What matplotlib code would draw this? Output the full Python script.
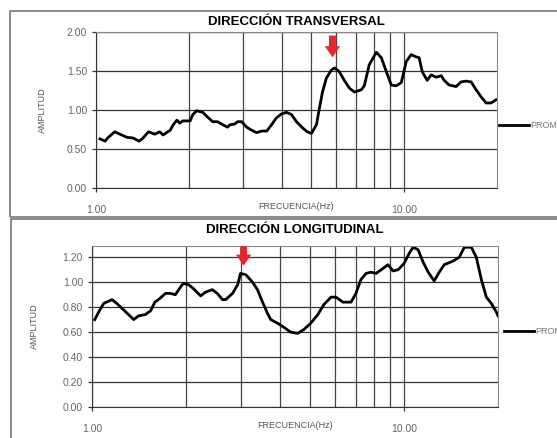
import numpy as np
import matplotlib
matplotlib.use("Agg")
import matplotlib.pyplot as plt
from matplotlib.patches import Rectangle
from matplotlib.ticker import FormatStrFormatter

plt.rcParams['font.family'] = ['Liberation Sans', 'DejaVu Sans']

# Transversal direction spectrum (frequency in Hz, amplitude)
freq_trans = [1.03, 1.07, 1.09, 1.15, 1.21, 1.26, 1.32, 1.38, 1.42, 1.48, 1.55, 1.61, 1.65,
              1.74, 1.78, 1.83, 1.87, 1.91, 2.02, 2.06, 2.12, 2.22, 2.30, 2.39, 2.48, 2.58,
              2.67, 2.72, 2.82, 2.88, 2.97, 3.08, 3.20, 3.32, 3.45, 3.58, 3.71, 3.85, 4.00,
              4.15, 4.31, 4.47, 4.68, 4.85, 5.00, 5.19, 5.31, 5.43, 5.59, 5.80, 5.94, 6.16,
              6.39, 6.64, 6.89, 7.26, 7.42, 7.70, 8.12, 8.43, 8.75, 9.08, 9.42, 9.78, 10.15,
              10.53, 10.94, 11.18, 11.44, 11.87, 12.23, 12.70, 13.18, 13.48, 13.98, 14.73,
              15.29, 15.87, 16.48, 17.10, 17.75, 18.43, 19.12, 19.85]
amp_trans = [0.63, 0.60, 0.64, 0.72, 0.68, 0.65, 0.64, 0.60, 0.64, 0.72, 0.69, 0.72, 0.68,
             0.74, 0.81, 0.87, 0.83, 0.86, 0.86, 0.94, 0.99, 0.97, 0.91, 0.85, 0.85, 0.81,
             0.78, 0.81, 0.82, 0.85, 0.85, 0.78, 0.74, 0.71, 0.73, 0.73, 0.81, 0.90, 0.95,
             0.97, 0.94, 0.85, 0.77, 0.72, 0.70, 0.81, 1.03, 1.23, 1.41, 1.51, 1.54, 1.49,
             1.38, 1.28, 1.23, 1.26, 1.31, 1.58, 1.74, 1.67, 1.49, 1.32, 1.31, 1.35, 1.62,
             1.71, 1.68, 1.67, 1.49, 1.38, 1.45, 1.42, 1.44, 1.38, 1.32, 1.30, 1.36, 1.37,
             1.36, 1.26, 1.17, 1.09, 1.09, 1.13]

# Longitudinal direction spectrum
freq_long = [1.02, 1.05, 1.09, 1.16, 1.20, 1.26, 1.31, 1.36, 1.41, 1.48, 1.54, 1.59, 1.65,
             1.72, 1.78, 1.85, 1.92, 1.96, 2.04, 2.11, 2.23, 2.31, 2.43, 2.52, 2.62, 2.68,
             2.82, 2.93, 2.99, 3.11, 3.27, 3.39, 3.52, 3.65, 3.74, 3.94, 4.11, 4.33, 4.56,
             4.77, 5.02, 5.29, 5.53, 5.83, 6.05, 6.37, 6.76, 7.01, 7.27, 7.55, 7.83, 8.13,
             8.56, 8.88, 9.22, 9.57, 10.00, 10.38, 10.69, 11.09, 11.51, 11.95, 12.49, 12.96,
             13.45, 14.38, 15.03, 15.60, 16.42, 17.04, 17.69, 18.35, 19.04, 19.76, 20.0]
amp_long = [0.70, 0.76, 0.83, 0.86, 0.83, 0.78, 0.74, 0.70, 0.73, 0.74, 0.77, 0.84, 0.87,
            0.91, 0.91, 0.90, 0.96, 0.99, 0.98, 0.95, 0.89, 0.92, 0.94, 0.91, 0.86, 0.86,
            0.91, 0.98, 1.07, 1.06, 1.00, 0.94, 0.84, 0.75, 0.70, 0.67, 0.64, 0.60, 0.59,
            0.62, 0.67, 0.74, 0.82, 0.88, 0.88, 0.84, 0.84, 0.91, 1.02, 1.07, 1.08, 1.07,
            1.11, 1.14, 1.09, 1.10, 1.15, 1.23, 1.28, 1.26, 1.16, 1.08, 1.01, 1.08, 1.14,
            1.17, 1.20, 1.28, 1.28, 1.20, 1.02, 0.88, 0.83, 0.76, 0.73]

x_minor = [2, 3, 4, 5, 6, 7, 8, 9]
y_ticks_trans = [0.0, 0.5, 1.0, 1.5, 2.0]
y_ticks_long = [0.0, 0.2, 0.4, 0.6, 0.8, 1.0, 1.2]

fig = plt.figure(figsize=(5.57, 4.38), dpi=100)

# outer chart frames
fig.add_artist(Rectangle((0.018, 0.5046), 1.0, 0.470, transform=fig.transFigure,
                         fill=False, edgecolor='#777777', linewidth=1.2))
fig.add_artist(Rectangle((0.020, -0.02), 1.0, 0.52, transform=fig.transFigure,
                         fill=False, edgecolor='#777777', linewidth=1.2))

ax1 = fig.add_axes([0.1724, 0.5708, 0.7199, 0.3562])
ax2 = fig.add_axes([0.1652, 0.0708, 0.7289, 0.3676])

# axes, data, y ticks, y max, title, title pad, ylabel pad, legend anchor
panels = [
    (ax1, freq_trans, amp_trans, y_ticks_trans, 2.0, 'DIRECCIÓN TRANSVERSAL', 5, 14, (0.985, 0.40)),
    (ax2, freq_long, amp_long, y_ticks_long, 1.29, 'DIRECCIÓN LONGITUDINAL', 9, 17, (0.995, 0.47)),
]

for ax, f, a, yt, ymax, title, tpad, ypad, leg_pos in panels:
    ax.plot(f, a, color='black', linewidth=2.0, label='PROMEDIO')
    ax.set_xscale('log')
    ax.set_xlim(1, 20)
    ax.set_ylim(0, ymax)
    ax.set_xticks([1, 10])
    ax.set_xticks(x_minor, minor=True)
    ax.xaxis.set_major_formatter(FormatStrFormatter('%.2f'))
    ax.xaxis.set_minor_formatter(plt.NullFormatter())
    ax.set_yticks(yt)
    ax.yaxis.set_major_formatter(FormatStrFormatter('%.2f'))
    ax.grid(True, which='major', axis='y', color='#333333', linewidth=0.9)
    ax.grid(True, which='both', axis='x', color='#444444', linewidth=0.9)
    ax.tick_params(axis='both', which='major', direction='out', length=3, width=0.9,
                   color='#333333', labelsize=7.5, labelcolor='#666666')
    ax.tick_params(axis='x', which='major', pad=9)
    ax.tick_params(axis='x', which='minor', length=0)
    for s in ['top', 'right']:
        ax.spines[s].set_color('#888888')
    for s in ['left', 'bottom']:
        ax.spines[s].set_color('#333333')
    ax.set_title(title, fontsize=9.5, fontweight='bold', pad=tpad)
    ax.set_xlabel('FRECUENCIA(Hz)', fontsize=6.5, color='#555555', labelpad=-9)
    ax.set_ylabel('AMPLITUD', fontsize=6.5, color='#555555', labelpad=ypad)
    ax.legend(loc='center left', bbox_to_anchor=leg_pos, frameon=False,
              fontsize=6.5, handlelength=3.3, handletextpad=0.1, labelcolor='#777777')

# peak markers
ax1.annotate('', xy=(5.85, 1.64), xytext=(5.85, 1.99), annotation_clip=False,
             arrowprops=dict(arrowstyle='simple,head_width=1.1,head_length=0.8,tail_width=0.5',
                             color='#e3262b', lw=0))
ax2.annotate('', xy=(3.06, 1.11), xytext=(3.06, 1.31), annotation_clip=False,
             arrowprops=dict(arrowstyle='simple,head_width=1.1,head_length=0.8,tail_width=0.5',
                             color='#e3262b', lw=0))

fig.savefig('out.png', dpi=100)
